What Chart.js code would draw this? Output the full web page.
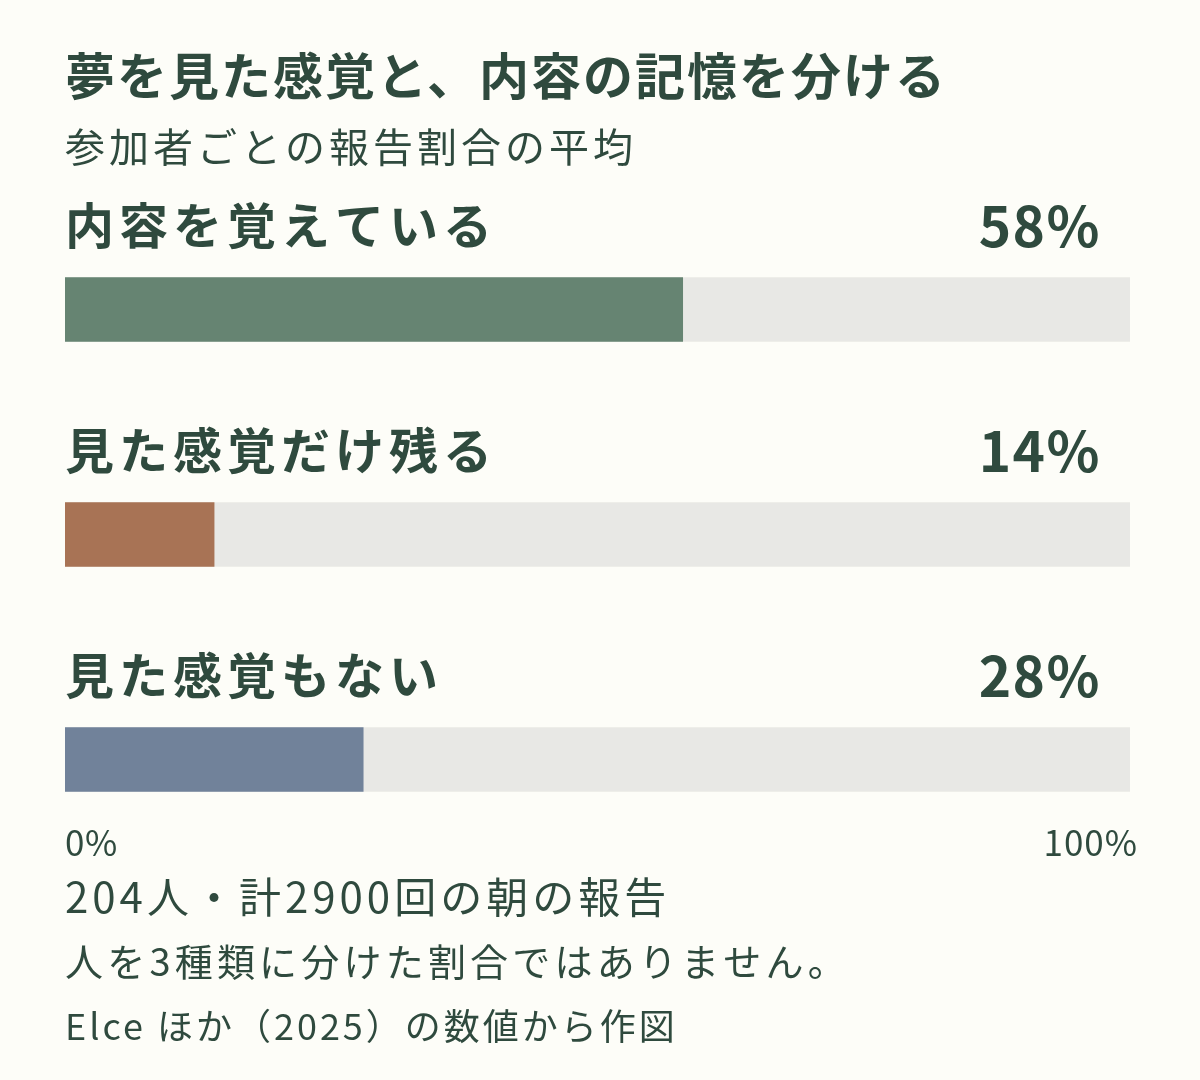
<!DOCTYPE html>
<html lang="ja">
<head>
<meta charset="utf-8">
<title>夢を見た感覚と、内容の記憶を分ける</title>
<script src="https://cdn.jsdelivr.net/npm/chart.js@4/dist/chart.umd.min.js"></script>
<style>
  html, body { margin: 0; padding: 0; background: #fdfdf8; }
  canvas { display: block; }
</style>
</head>
<body>
<canvas id="dreamChart" width="1200" height="1080"></canvas>
<script>
const categories = ['内容を覚えている', '見た感覚だけ残る', '見た感覚もない'];
const shares = [58, 14, 28];
const trackValues = [100, 100, 100];
const barColors = ['#668472', '#a87355', '#71829a'];
const tickLabels = ['0%', '100%'];

const titleText = '夢を見た感覚と、内容の記憶を分ける';
const subtitleText = '参加者ごとの報告割合の平均';
const footerLines = [
  '204人・計2900回の朝の報告',
  '人を3種類に分けた割合ではありません。',
  'Elce ほか（2025）の数値から作図'
];

const ink = '#2f4a3e';
const jp = '"Noto Sans CJK JP", "Noto Sans", sans-serif';

function drawText(ctx, text, x, y, font, align, spacing) {
  ctx.font = font;
  ctx.textAlign = align;
  ctx.letterSpacing = spacing + 'px';
  ctx.fillText(text, x, y);
}

const labelsPlugin = {
  id: 'labels',
  afterDraw(chart) {
    const ctx = chart.ctx;
    const xs = chart.scales.x;
    const ys = chart.scales.y;
    ctx.save();
    ctx.fillStyle = ink;
    ctx.textBaseline = 'middle';

    drawText(ctx, titleText, 65, 76, 'bold 50px ' + jp, 'left', 2);
    drawText(ctx, subtitleText, 65, 147, '40px ' + jp, 'left', 4);

    categories.forEach((name, i) => {
      const y = ys.getPixelForValue(i) - 84;
      drawText(ctx, name, 65, y, 'bold 49px ' + jp, 'left', 5);
      drawText(ctx, shares[i] + '%', xs.getPixelForValue(100) - 29, y + 1, 'bold 55px ' + jp, 'right', 1.5);
    });

    drawText(ctx, tickLabels[0], xs.getPixelForValue(0), 843, '35px ' + jp, 'left', 0.5);
    drawText(ctx, tickLabels[1], xs.getPixelForValue(100) + 8, 843, '35px ' + jp, 'right', 1);

    drawText(ctx, footerLines[0], 65, 897, '42px ' + jp, 'left', 4);
    drawText(ctx, footerLines[1], 65, 962, '38px ' + jp, 'left', 4.2);
    drawText(ctx, footerLines[2], 65, 1026, '36px ' + jp, 'left', 3);
    ctx.restore();
  }
};

new Chart(document.getElementById('dreamChart'), {
  type: 'bar',
  data: {
    labels: categories,
    datasets: [
      {
        label: 'share',
        data: shares,
        backgroundColor: barColors,
        barThickness: 64,
        grouped: false,
        order: 1
      },
      {
        label: 'track',
        data: trackValues,
        backgroundColor: '#e8e8e5',
        barThickness: 64,
        grouped: false,
        order: 2
      }
    ]
  },
  options: {
    indexAxis: 'y',
    responsive: false,
    animation: false,
    layout: {
      padding: { left: 65, right: 70, top: 197, bottom: 208 }
    },
    scales: {
      x: { min: 0, max: 100, display: false },
      y: { display: false }
    },
    plugins: {
      legend: { display: false },
      tooltip: { enabled: false }
    }
  },
  plugins: [labelsPlugin]
});
</script>
</body>
</html>
